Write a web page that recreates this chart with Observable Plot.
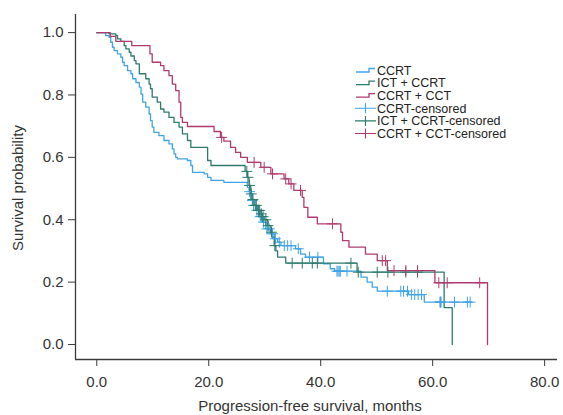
<!DOCTYPE html>
<html>
<head>
<meta charset="utf-8">
<script src="https://cdn.jsdelivr.net/npm/d3@7"></script>
<script src="https://cdn.jsdelivr.net/npm/@observablehq/plot@0.6"></script>
<style>
  html, body { margin: 0; padding: 0; background: #fff; }
  #chart { width: 563px; height: 415px; }
</style>
</head>
<body>
<div id="chart"></div>
<script>
// ---- Data ----
const groups = ["CCRT", "ICT + CCRT", "CCRT + CCT"];
const colors = ["#3fa4e6", "#2c7b6c", "#b03a6e"];

const xTicks = [0, 20, 40, 60, 80];
const yTicks = [0, 0.2, 0.4, 0.6, 0.8, 1.0];

// CCRT
const ccrtTimes = [0, 1.6, 2.2, 2.5, 2.8, 3.1, 3.7, 4.3, 4.6, 4.9, 5.5, 6.1, 6.4, 7.0, 7.6, 7.9, 8.2, 8.75, 9.35, 9.6, 9.9, 10.2, 11.1, 12.0, 12.9, 13.5, 13.8, 14.1, 14.4, 16.2, 16.8, 17.1, 19.2, 19.8, 20.4, 22.7, 26.9, 27.2, 27.5, 27.9, 28.4, 29.0, 29.6, 30.2, 31.1, 31.7, 32.3, 32.9, 35.5, 36.4, 37.3, 40.5, 41.7, 42.5, 47.2, 48.3, 49.2, 50.1, 55.7, 58.5];
const ccrtSurv  = [1.0, 0.99, 0.985, 0.969, 0.953, 0.942, 0.932, 0.921, 0.905, 0.894, 0.878, 0.868, 0.852, 0.84, 0.825, 0.803, 0.777, 0.761, 0.739, 0.718, 0.697, 0.68, 0.67, 0.654, 0.643, 0.627, 0.611, 0.60, 0.595, 0.59, 0.574, 0.552, 0.547, 0.536, 0.526, 0.52, 0.504, 0.49, 0.462, 0.446, 0.43, 0.41, 0.392, 0.371, 0.355, 0.339, 0.328, 0.317, 0.307, 0.29, 0.28, 0.259, 0.243, 0.235, 0.216, 0.2, 0.184, 0.171, 0.160, 0.136];
const ccrtEnd = 66.9;
const ccrtCensor = [27.3, 27.8, 28.0, 28.6, 29.2, 29.4, 29.8, 30.4, 30.8, 31.4, 31.9, 32.6, 33.5, 34.1, 34.7, 36.0, 38.0, 39.5, 42.9, 43.1, 43.3, 43.5, 44.7, 51.9, 54.3, 54.8, 55.5, 56.2, 56.8, 57.4, 58.0, 61.3, 61.4, 61.5, 63.9, 66.2, 66.7];

// ICT + CCRT
const ictTimes = [0, 2.2, 3.4, 3.7, 4.3, 4.9, 5.2, 5.8, 6.1, 6.7, 7.0, 7.6, 8.75, 9.35, 9.6, 9.9, 10.8, 11.4, 12.0, 12.9, 13.8, 14.7, 15.3, 16.2, 16.8, 19.8, 20.4, 26.5, 26.9, 27.2, 27.5, 27.8, 28.1, 28.7, 29.3, 29.6, 29.9, 30.5, 31.1, 31.4, 31.7, 32.0, 32.3, 33.75, 46.5, 62.05, 63.5];
const ictSurv  = [1.0, 0.996, 0.99, 0.98, 0.972, 0.958, 0.948, 0.937, 0.925, 0.91, 0.9, 0.868, 0.852, 0.835, 0.82, 0.793, 0.777, 0.755, 0.745, 0.728, 0.712, 0.697, 0.675, 0.654, 0.632, 0.59, 0.574, 0.555, 0.536, 0.51, 0.483, 0.465, 0.446, 0.43, 0.419, 0.41, 0.40, 0.381, 0.36, 0.344, 0.317, 0.30, 0.28, 0.261, 0.232, 0.118, 0.0];
const ictEnd = 63.5;
const ictCensor = [26.8, 27.0, 27.3, 27.6, 27.9, 28.3, 28.5, 28.9, 29.1, 29.4, 29.7, 30.2, 30.6, 31.2, 31.8, 34.9, 36.7, 38.5, 39.4, 45.4, 46.7, 50.1, 52.0, 55.2, 57.3];

// CCRT + CCT
const cctTimes = [0, 2.4, 3.4, 6.25, 9.5, 9.9, 11.4, 12.0, 12.9, 13.5, 14.1, 14.7, 15.0, 15.3, 16.2, 20.95, 22.1, 22.7, 23.9, 24.8, 25.7, 26.9, 29.3, 31.1, 33.45, 34.3, 35.2, 36.7, 37.0, 37.7, 39.4, 43.6, 43.9, 45.05, 48.0, 50.1, 51.9, 60.4, 69.8];
const cctSurv  = [1.0, 0.988, 0.972, 0.958, 0.932, 0.905, 0.894, 0.878, 0.862, 0.835, 0.814, 0.777, 0.728, 0.712, 0.699, 0.683, 0.664, 0.652, 0.632, 0.616, 0.60, 0.584, 0.568, 0.547, 0.531, 0.515, 0.494, 0.472, 0.44, 0.408, 0.387, 0.36, 0.333, 0.312, 0.29, 0.269, 0.237, 0.198, 0.0];
const cctEnd = 69.8;
const cctCensor = [22.3, 28.1, 29.9, 31.4, 33.75, 34.7, 36.4, 42.1, 51.0, 51.6, 53.1, 55.2, 57.3, 61.1, 62.6, 68.4];

// ---- Build tables ----
const series = [
  {group: groups[0], times: ccrtTimes, surv: ccrtSurv, end: ccrtEnd, censor: ccrtCensor},
  {group: groups[1], times: ictTimes, surv: ictSurv, end: ictEnd, censor: ictCensor},
  {group: groups[2], times: cctTimes, surv: cctSurv, end: cctEnd, censor: cctCensor}
];

function survAt(times, surv, t) {
  let s = surv[0];
  for (let i = 0; i < times.length; i++) if (times[i] <= t) s = surv[i];
  return s;
}

const stepRows = [];
const censorRows = [];
for (const se of series) {
  se.times.forEach((t, i) => stepRows.push({group: se.group, t, s: se.surv[i]}));
  const last = se.times[se.times.length - 1];
  if (se.end > last) stepRows.push({group: se.group, t: se.end, s: se.surv[se.surv.length - 1]});
  se.censor.forEach(t => censorRows.push({group: se.group, t, s: survAt(se.times, se.surv, t)}));
}

const xDomain = [-3.8, 82.3];
const yDomain = [-0.048, 1.058];
const font = "'Liberation Sans', Arial, Helvetica, sans-serif";

const W = 563, H = 415;
const mL = 75, mR = 6, mT = 14, mB = 56;

const plot = Plot.plot({
  width: W,
  height: H,
  marginLeft: mL,
  marginRight: mR,
  marginTop: mT,
  marginBottom: mB,
  style: {fontFamily: font, fontSize: "15px", color: "#333", background: "#fff", overflow: "visible"},
  x: {domain: xDomain, label: null},
  y: {domain: yDomain, label: null},
  color: {domain: groups, range: colors},
  marks: [
    Plot.ruleX([xDomain[0]], {stroke: "#3a3a3a", strokeWidth: 1.3}),
    Plot.ruleY([yDomain[0]], {stroke: "#3a3a3a", strokeWidth: 1.3}),
    Plot.axisX({ticks: xTicks, tickFormat: d3.format(".1f"), tickSize: 7, tickPadding: 10, fontSize: 15, stroke: "#3a3a3a", fill: "#333", label: null}),
    Plot.axisY({ticks: yTicks, tickFormat: d3.format(".1f"), tickSize: 7, tickPadding: 5, fontSize: 15, stroke: "#3a3a3a", fill: "#333", label: null}),
    Plot.line(stepRows, {x: "t", y: "s", z: "group", stroke: "group", curve: "step-after", strokeWidth: 1.3}),
    Plot.dot(censorRows, {x: "t", y: "s", stroke: "group", symbol: "plus", r: 3.6, strokeWidth: 1})
  ]
});

document.getElementById("chart").appendChild(plot);

// ---- Axis titles and legend ----
const svg = d3.select(plot);
svg.append("text")
  .attr("x", 310).attr("y", 411)
  .attr("text-anchor", "middle")
  .attr("font-family", font).attr("font-size", 15).attr("fill", "#333")
  .text("Progression-free survival, months");
svg.append("text")
  .attr("transform", "translate(23,188) rotate(-90)")
  .attr("text-anchor", "middle")
  .attr("font-family", font).attr("font-size", 15).attr("fill", "#333")
  .text("Survival probability");

const legendLabels = ["CCRT", "ICT + CCRT", "CCRT + CCT", "CCRT-censored", "ICT + CCRT-censored", "CCRT + CCT-censored"];
const lg = svg.append("g").attr("text-anchor", "start");
legendLabels.forEach((lab, i) => {
  const y = 70.5 + i * 12.6;
  const c = colors[i % 3];
  if (i < 3) {
    lg.append("path").attr("d", `M356,${y + 1.5}H369V${y - 2}H375`).attr("fill", "none").attr("stroke", c).attr("stroke-width", 1.3);
  } else {
    lg.append("path").attr("d", `M355,${y}H376M365.5,${y - 5}V${y + 5}`).attr("fill", "none").attr("stroke", c).attr("stroke-width", 1.1);
  }
  lg.append("text").attr("x", 377).attr("y", y).attr("dy", "0.35em")
    .attr("text-anchor", "start")
    .attr("font-family", font).attr("font-size", 12.5).attr("fill", "#222").text(lab);
});
</script>
</body>
</html>
